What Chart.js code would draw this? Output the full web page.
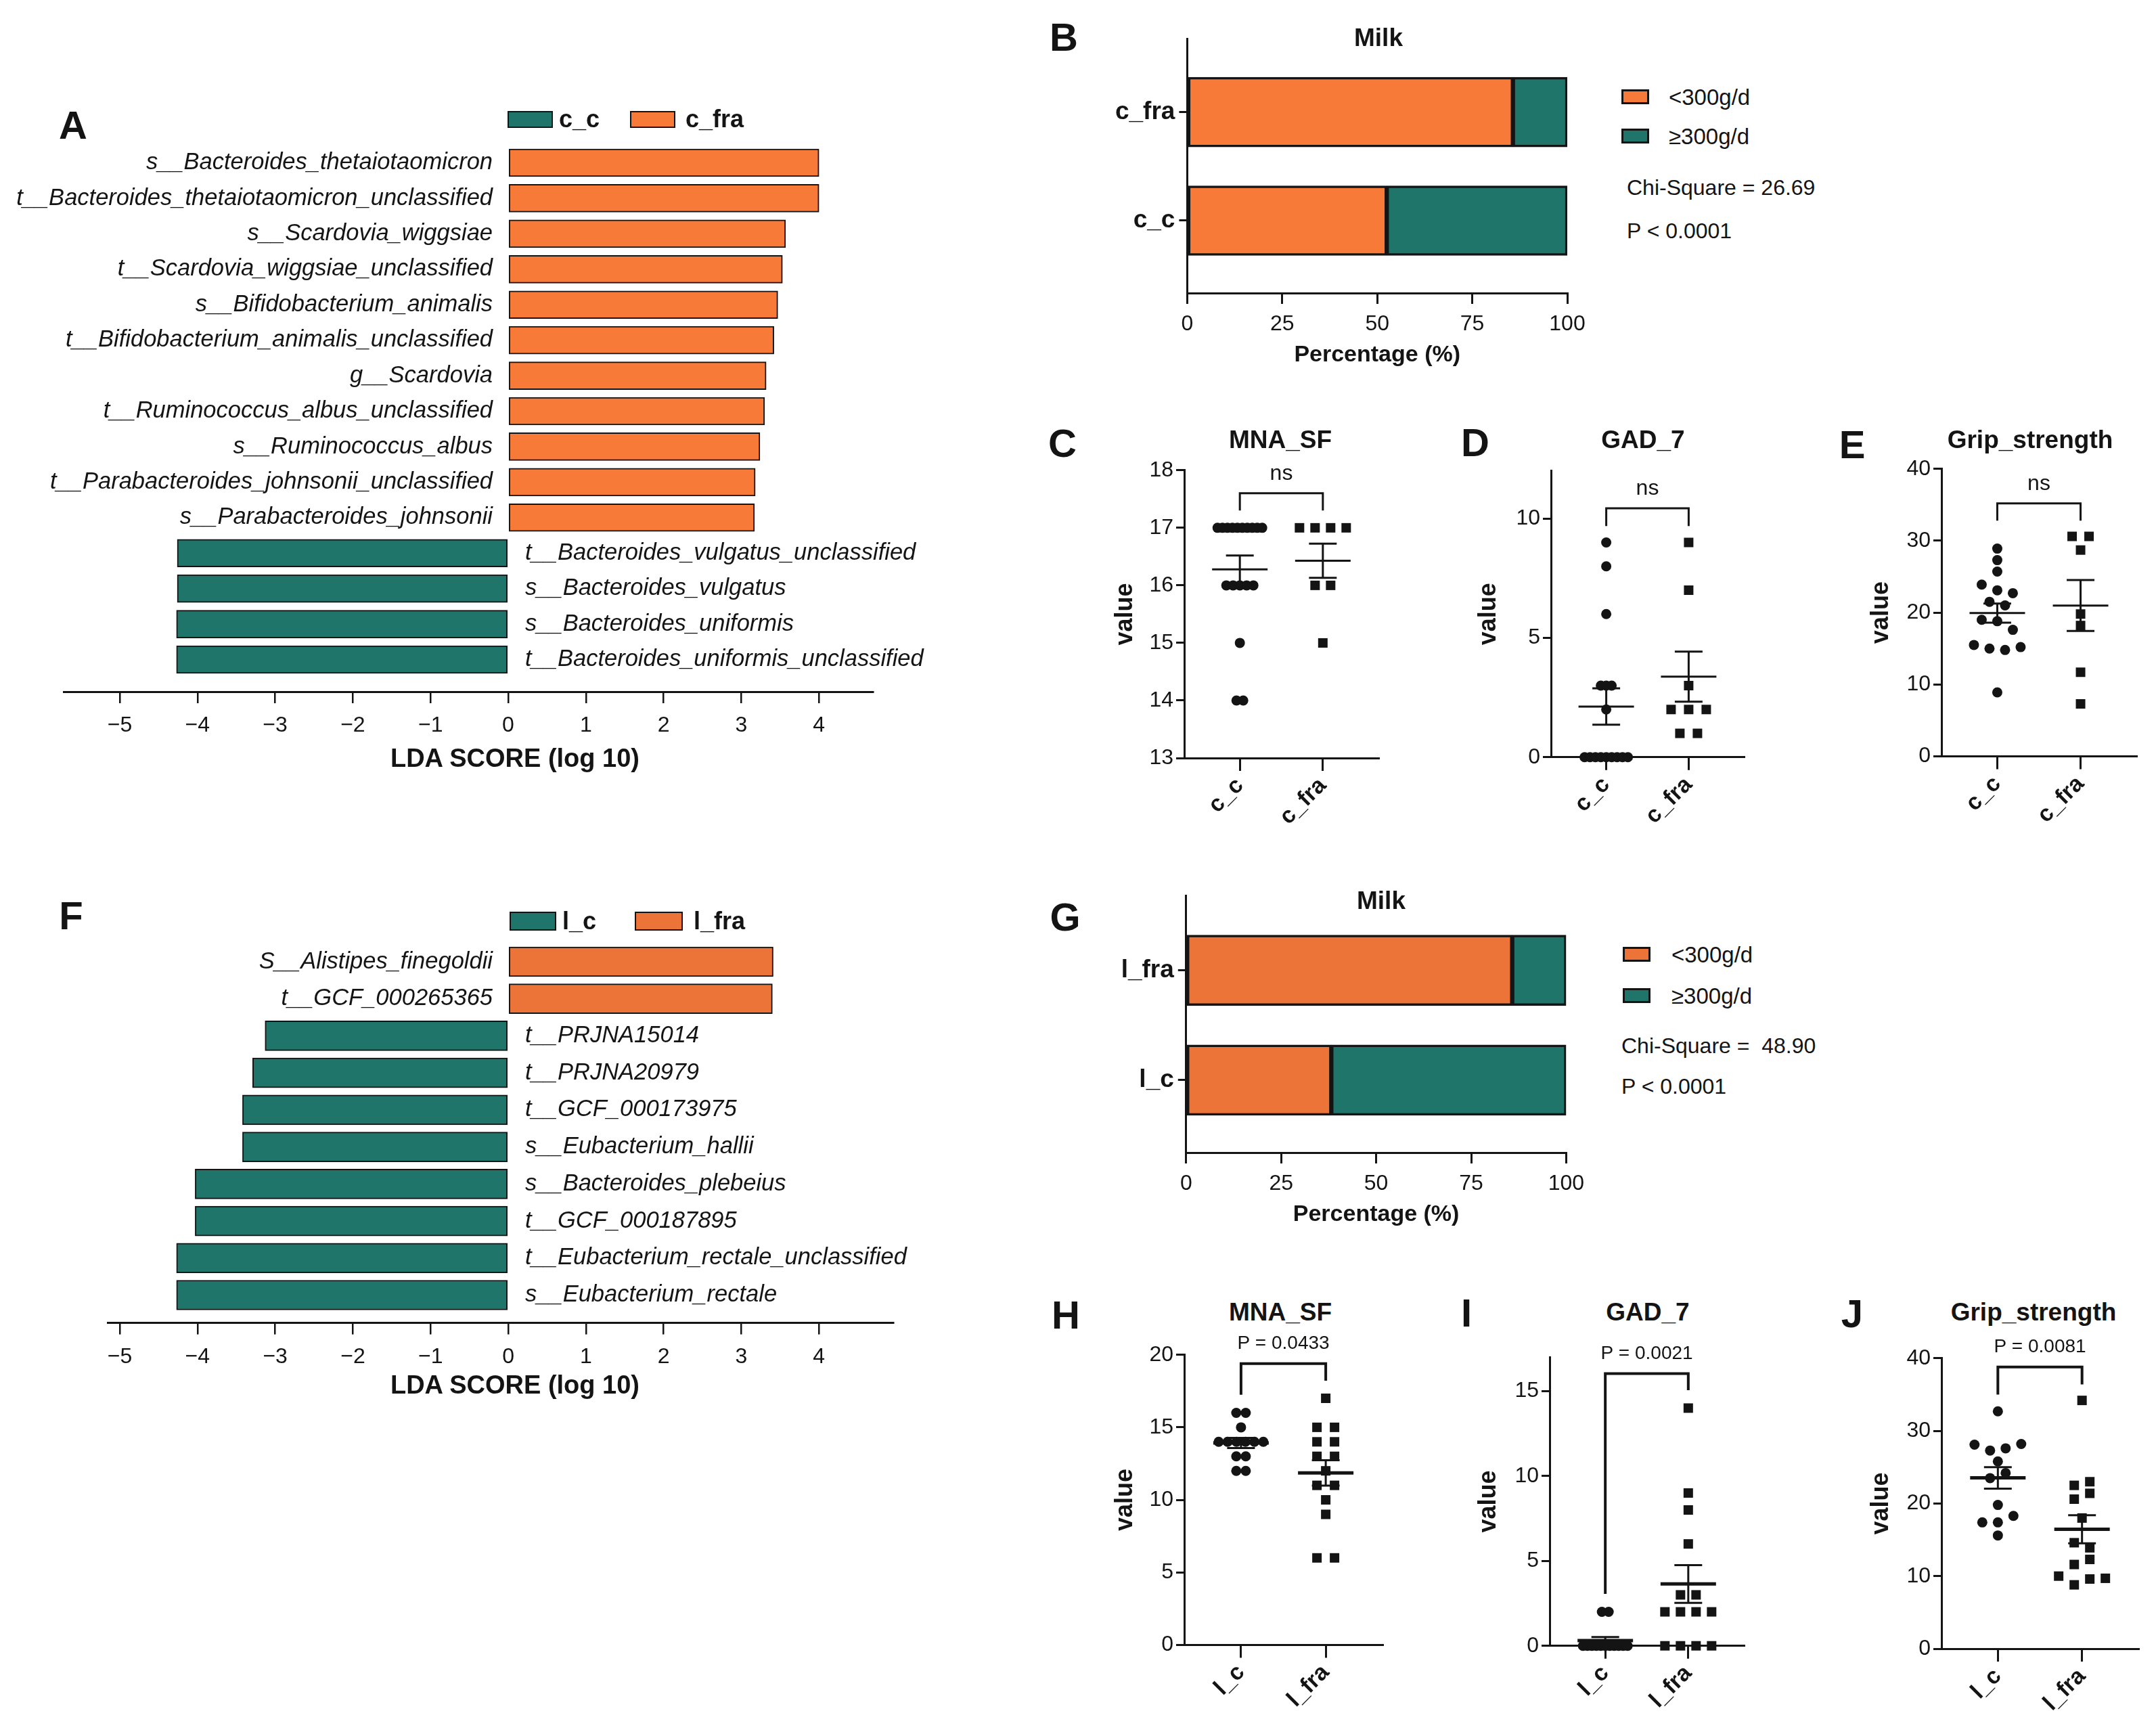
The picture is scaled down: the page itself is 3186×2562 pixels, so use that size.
<!DOCTYPE html>
<html>
<head>
<meta charset="utf-8">
<title>LDA scores, milk intake and scores by group</title>
<script src="https://cdn.jsdelivr.net/npm/chart.js@4.4.1/dist/chart.umd.min.js"></script>
<style>
  html, body { margin: 0; padding: 0; background: #fff; }
  body { position: relative; width: 3186px; height: 2562px; overflow: hidden;
         font-family: "Liberation Sans", Arial, Helvetica, sans-serif; color: #141414; }
  canvas { position: absolute; }
  .txt { position: absolute; white-space: pre; line-height: 1; }
  .mid { transform: translate(-50%, -50%); }
  .lft { transform: translate(0, -50%); }
  .sw { position: absolute; box-sizing: border-box; }
</style>
</head>
<body>
<script>
// ---------- data ----------
const ldaCLabels = [
  's__Bacteroides_thetaiotaomicron', 't__Bacteroides_thetaiotaomicron_unclassified',
  's__Scardovia_wiggsiae', 't__Scardovia_wiggsiae_unclassified',
  's__Bifidobacterium_animalis', 't__Bifidobacterium_animalis_unclassified',
  'g__Scardovia', 't__Ruminococcus_albus_unclassified', 's__Ruminococcus_albus',
  't__Parabacteroides_johnsonii_unclassified', 's__Parabacteroides_johnsonii',
  't__Bacteroides_vulgatus_unclassified', 's__Bacteroides_vulgatus',
  's__Bacteroides_uniformis', 't__Bacteroides_uniformis_unclassified'
];
const ldaCScores = [4.00, 4.00, 3.57, 3.53, 3.47, 3.42, 3.32, 3.30, 3.24, 3.18, 3.17, -4.26, -4.26, -4.27, -4.27];

const ldaLLabels = [
  'S__Alistipes_finegoldii', 't__GCF_000265365', 't__PRJNA15014', 't__PRJNA20979',
  't__GCF_000173975', 's__Eubacterium_hallii', 's__Bacteroides_plebeius',
  't__GCF_000187895', 't__Eubacterium_rectale_unclassified', 's__Eubacterium_rectale'
];
const ldaLScores = [3.41, 3.40, -3.13, -3.29, -3.42, -3.42, -4.03, -4.03, -4.27, -4.27];
const ldaTicks = [-5, -4, -3, -2, -1, 0, 1, 2, 3, 4];

const milkSeries = ['<300g/d', '\u2265300g/d'];
const milkCGroups = ['c_fra', 'c_c'];
const milkCLow = [85.7, 52.5];
const milkCHigh = [14.3, 47.5];
const milkLGroups = ['l_fra', 'l_c'];
const milkLLow = [85.8, 38.2];
const milkLHigh = [14.2, 61.8];
const pctTicks = [0, 25, 50, 75, 100];

const cGroups = ['c_c', 'c_fra'];
const lGroups = ['l_c', 'l_fra'];

const mnaC_cc = [17, 17, 17, 17, 17, 17, 17, 17, 17, 17, 16, 16, 16, 16, 16, 15, 14, 14];
const mnaC_cfra = [17, 17, 17, 17, 16, 16, 15];
const gadC_cc = [9, 8, 6, 3, 3, 3, 2, 0, 0, 0, 0, 0, 0, 0, 0, 0];
const gadC_cfra = [9, 7, 3, 2, 2, 2, 1, 1];
const gripC_cc = [28.9, 27.3, 25.7, 23.9, 23.1, 22.7, 21.5, 21.0, 19.0, 18.8, 17.6, 15.5, 15.0, 14.8, 15.2, 8.9];
const gripC_cfra = [30.6, 30.6, 28.7, 19.8, 18.2, 11.7, 7.3];

const mnaL_lc = [16, 16, 15, 14, 14, 14, 14, 14, 14, 13, 13, 12, 12];
const mnaL_lfra = [17, 15, 15, 14, 14, 13, 13, 12, 11, 11, 10, 9, 6, 6];
const gadL_lc = [2, 2, 0, 0, 0, 0, 0, 0, 0, 0, 0, 0, 0];
const gadL_lfra = [14, 9, 8, 6, 3, 3, 2, 2, 2, 2, 0, 0, 0, 0];
const gripL_lc = [32.7, 28.1, 27.3, 27.6, 28.2, 25.8, 23.5, 24.2, 19.8, 17.4, 17.4, 18.3, 15.6];
const gripL_lfra = [34.2, 22.5, 23.0, 20.6, 21.4, 18.0, 14.6, 13.9, 11.6, 12.3, 10.0, 8.8, 9.6, 9.7];

const mnaCTicks = [13, 14, 15, 16, 17, 18];
const gadCTicks = [0, 5, 10];
const gripTicks = [0, 10, 20, 30, 40];
const mnaLTicks = [0, 5, 10, 15, 20];
const gadLTicks = [0, 5, 10, 15];

// bracket: top, left leg end, right leg end (value units)
const brMnaC = [17.6, 17.3, 17.3];
const brGadC = [10.43, 9.69, 9.69];
const brGripC = [35.2, 32.8, 32.8];
const brMnaL = [19.39, 17.25, 18.21];
const brGadL = [16.03, 3.06, 15.05];
const brGripL = [38.8, 35.0, 36.4];

// ---------- styles ----------
const INK = '#141414';
const TEAL = '#20756a';
const ORANGE_C = '#f77a39';
const ORANGE_L = '#ec7439';
const FONT = '"Liberation Sans", Arial, Helvetica, sans-serif';

Chart.defaults.font.family = FONT;
Chart.defaults.color = INK;
Chart.defaults.animation = false;
Chart.defaults.events = [];
Chart.defaults.plugins.legend.display = false;
Chart.defaults.plugins.tooltip.enabled = false;

function canvasAt(b) {
  const c = document.createElement('canvas');
  c.width = b.w; c.height = b.h;
  c.style.left = b.x + 'px'; c.style.top = b.y + 'px';
  c.style.width = b.w + 'px'; c.style.height = b.h + 'px';
  document.body.appendChild(c);
  return c;
}
// padding so the chart area lands on a (page coords) inside canvas box b
function pad(b, a, yW, xH) {
  return { left: a.l - b.x - yW, top: a.t - b.y, right: b.x + b.w - a.r, bottom: b.y + b.h - a.b - xH };
}
const fixW = w => s => { s.width = w; };
const fixH = h => s => { s.height = h; };
const setTicks = list => s => { s.ticks = list.map(v => ({ value: v })); };

function text(str, x, y, size, bold, left) {
  const d = document.createElement('div');
  d.className = 'txt ' + (left ? 'lft' : 'mid');
  d.textContent = str;
  d.style.left = x + 'px'; d.style.top = y + 'px';
  d.style.fontSize = size + 'px';
  if (bold) d.style.fontWeight = 'bold';
  document.body.appendChild(d);
}
function swatch(x, y, w, h, color, bw) {
  const d = document.createElement('div');
  d.className = 'sw';
  Object.assign(d.style, { left: x + 'px', top: y + 'px', width: w + 'px', height: h + 'px',
    background: color, border: bw + 'px solid ' + INK });
  document.body.appendChild(d);
}

// ---------- LDA bar charts ----------
function ldaChart(b, a, labels, scores, orange, yMax, xMin, xMax, thick) {
  const labelPlugin = {
    id: 'ldaLabels',
    afterDatasetsDraw(chart) {
      const { ctx, scales: { x, y } } = chart;
      const x0 = x.getPixelForValue(0);
      ctx.save();
      ctx.font = 'italic 34.5px ' + FONT;
      ctx.fillStyle = INK;
      ctx.textBaseline = 'middle';
      scores.forEach((s, i) => {
        const py = y.getPixelForValue(i);
        if (s > 0) { ctx.textAlign = 'right'; ctx.fillText(labels[i], x0 - 23, py); }
        else { ctx.textAlign = 'left'; ctx.fillText(labels[i], x0 + 25, py); }
      });
      ctx.restore();
    }
  };
  return new Chart(canvasAt(b), {
    type: 'bar',
    data: {
      datasets: [{
        data: scores.map((s, i) => ({ x: s, y: i })),
        backgroundColor: scores.map(s => s > 0 ? orange : TEAL),
        borderColor: INK, borderWidth: 2, borderSkipped: false, barThickness: thick
      }]
    },
    options: {
      responsive: false,
      indexAxis: 'y',
      layout: { padding: pad(b, a, 0, 80) },
      scales: {
        x: {
          type: 'linear', min: xMin, max: xMax,
          afterBuildTicks: setTicks(ldaTicks), afterFit: fixH(80),
          grid: { drawOnChartArea: false, tickLength: 17, lineWidth: 2.5, color: INK },
          border: { width: 3, color: INK },
          ticks: { font: { size: 32 }, padding: 14, color: INK, autoSkip: false,
                   callback: v => v < 0 ? '\u2212' + (-v) : String(v) }
        },
        y: { type: 'linear', reverse: true, min: -0.5, max: yMax, offset: false,
             grid: { offset: false }, display: false }
      }
    },
    plugins: [labelPlugin]
  });
}

// ---------- milk stacked bars ----------
function milkChart(b, a, groups, low, high, orange, thick, yMax) {
  const barStyle = { borderColor: INK, borderWidth: 3.5, borderSkipped: false, barThickness: thick };
  return new Chart(canvasAt(b), {
    type: 'bar',
    data: {
      datasets: [
        Object.assign({ label: milkSeries[0], data: low.map((v, i) => ({ x: v, y: i })), backgroundColor: orange }, barStyle),
        Object.assign({ label: milkSeries[1], data: high.map((v, i) => ({ x: v, y: i })), backgroundColor: TEAL }, barStyle)
      ]
    },
    options: {
      responsive: false,
      indexAxis: 'y',
      layout: { padding: pad(b, a, 130, 112) },
      scales: {
        x: {
          type: 'linear', stacked: true, min: 0, max: 100,
          afterBuildTicks: setTicks(pctTicks), afterFit: fixH(112),
          grid: { drawOnChartArea: false, tickLength: 16, lineWidth: 3, color: INK },
          border: { width: 3, color: INK },
          ticks: { font: { size: 32 }, padding: 11, color: INK },
          title: { display: true, text: 'Percentage (%)', font: { size: 34, weight: 'bold' }, padding: 0, color: INK }
        },
        y: {
          type: 'linear', stacked: true, reverse: true, min: -0.678, max: yMax, offset: false,
          afterBuildTicks: setTicks([0, 1]), afterFit: fixW(130),
          grid: { drawOnChartArea: false, offset: false, tickLength: 12, lineWidth: 3, color: INK },
          border: { width: 3, color: INK },
          ticks: { font: { size: 37, weight: 'bold' }, padding: 6, color: INK, callback: v => groups[v] }
        }
      }
    }
  });
}

// ---------- scatter with mean ± SEM ----------
function swarmOffsets(values, pxY, gap, maxSpan) {
  const order = values.map((v, i) => i).sort((p, q) => values[q] - values[p] || p - q);
  const bins = [];
  let cur = null;
  for (const i of order) {
    if (cur && (values[cur[0]] - values[i]) * pxY < 15) cur.push(i);
    else { cur = [i]; bins.push(cur); }
  }
  const off = new Array(values.length).fill(0);
  bins.forEach(bin => {
    bin.sort((p, q) => p - q);
    const m = bin.length;
    const s = m > 1 ? Math.min(gap, maxSpan / (m - 1)) : 0;
    bin.forEach((i, k) => { off[i] = (k - (m - 1) / 2) * s; });
  });
  return off;
}

function dotChart(p) {
  const { b, a, groups, sets, yMin, yMax, yTicks, bracket, stat, statSize, spread, meanLW, brLW } = p;
  const yW = a.l - p.titleX + 21.6;
  const meanPlugin = {
    id: 'meanSem',
    afterDatasetsDraw(chart) {
      const { ctx, scales: { x, y } } = chart;
      ctx.save();
      ctx.strokeStyle = INK;
      sets.forEach((vals, g) => {
        const n = vals.length;
        const mean = vals.reduce((s, v) => s + v, 0) / n;
        const sd = Math.sqrt(vals.reduce((s, v) => s + (v - mean) ** 2, 0) / (n - 1));
        const sem = sd / Math.sqrt(n);
        const cx = x.getPixelForValue(g);
        const yt = y.getPixelForValue(mean + sem), yb = y.getPixelForValue(mean - sem);
        ctx.lineWidth = 3;
        ctx.beginPath();
        ctx.moveTo(cx, yt); ctx.lineTo(cx, yb);
        ctx.moveTo(cx - 20.5, yt); ctx.lineTo(cx + 20.5, yt);
        ctx.moveTo(cx - 20.5, yb); ctx.lineTo(cx + 20.5, yb);
        ctx.stroke();
        ctx.lineWidth = meanLW;
        const ym = y.getPixelForValue(mean);
        ctx.beginPath(); ctx.moveTo(cx - 41, ym); ctx.lineTo(cx + 41, ym); ctx.stroke();
      });
      const x0 = x.getPixelForValue(0), x1 = x.getPixelForValue(1);
      const top = y.getPixelForValue(bracket[0]);
      ctx.lineWidth = brLW;
      ctx.lineJoin = 'miter';
      ctx.beginPath();
      ctx.moveTo(x0, y.getPixelForValue(bracket[1]));
      ctx.lineTo(x0, top); ctx.lineTo(x1, top);
      ctx.lineTo(x1, y.getPixelForValue(bracket[2]));
      ctx.stroke();
      ctx.fillStyle = INK;
      ctx.font = statSize + 'px ' + FONT;
      ctx.textAlign = 'center'; ctx.textBaseline = 'middle';
      ctx.fillText(stat, (x0 + x1) / 2, top - 29);
      ctx.restore();
    }
  };
  const styles = ['circle', 'rect'];
  const chart = new Chart(canvasAt(b), {
    type: 'scatter',
    data: {
      datasets: sets.map((vals, g) => ({
        data: vals.map(v => ({ x: g, y: v })),
        pointStyle: styles[g], pointRadius: g === 0 ? 7.5 : 9.9,
        backgroundColor: INK, borderWidth: 0, clip: false
      }))
    },
    options: {
      responsive: false,
      layout: { padding: pad(b, a, yW, 120) },
      scales: {
        x: {
          type: 'linear', min: -0.67, max: 1.67,
          afterBuildTicks: setTicks([0, 1]), afterFit: fixH(120),
          grid: { drawOnChartArea: false, tickLength: 19, lineWidth: 3, color: INK },
          border: { width: 3, color: INK },
          ticks: { font: { size: 34, weight: 'bold' }, minRotation: 45, maxRotation: 45,
                   autoSkip: false, padding: 2, color: INK, callback: v => groups[v] }
        },
        y: {
          type: 'linear', min: yMin, max: yMax,
          afterBuildTicks: setTicks(yTicks), afterFit: fixW(yW),
          grid: { drawOnChartArea: false, tickLength: 12, lineWidth: 3, color: INK },
          border: { width: 3, color: INK },
          ticks: { font: { size: 32 }, padding: 4, color: INK },
          title: { display: true, text: 'value', font: { size: 36, weight: 'bold' }, padding: 0, color: INK }
        }
      }
    },
    plugins: [meanPlugin]
  });
  // spread tied / close values sideways like a column scatter
  const xs = chart.scales.x, ys = chart.scales.y;
  const pxX = xs.getPixelForValue(1) - xs.getPixelForValue(0);
  const pxY = Math.abs(ys.getPixelForValue(0) - ys.getPixelForValue(1));
  sets.forEach((vals, g) => {
    const off = swarmOffsets(vals, pxY, spread[g][0], spread[g][1]);
    chart.data.datasets[g].data = vals.map((v, i) => ({ x: g + off[i] / pxX, y: v }));
  });
  chart.update('none');
  return chart;
}

// ---------- panels ----------
ldaChart({ x: 0, y: 150, w: 1400, h: 1000 }, { l: 94, r: 1290, t: 214.3, b: 1022 },
  ldaCLabels, ldaCScores, ORANGE_C, 14.906, -5.723, 4.695, 41);
ldaChart({ x: 0, y: 1340, w: 1400, h: 760 }, { l: 159, r: 1320, t: 1393.6, b: 1954.6 },
  ldaLLabels, ldaLScores, ORANGE_L, 9.751, -5.157, 4.956, 44);

milkChart({ x: 1600, y: 10, w: 760, h: 560 }, { l: 1754.4, r: 2316, t: 57, b: 433 },
  milkCGroups, milkCLow, milkCHigh, ORANGE_C, 103, 1.6675);
milkChart({ x: 1600, y: 1290, w: 760, h: 560 }, { l: 1752.8, r: 2314.4, t: 1323.7, b: 1703 },
  milkLGroups, milkLLow, milkLHigh, ORANGE_L, 104, 1.66);

dotChart({ b: { x: 1600, y: 660, w: 460, h: 620 }, a: { l: 1750, r: 2037, t: 694.8, b: 1120 }, titleX: 1663,
  groups: cGroups, sets: [mnaC_cc, mnaC_cfra], yMin: 13, yMax: 18, yTicks: mnaCTicks,
  bracket: brMnaC, stat: 'ns', statSize: 32, spread: [[10, 66], [23, 70]], meanLW: 3, brLW: 3 });
dotChart({ b: { x: 2140, y: 660, w: 460, h: 620 }, a: { l: 2292, r: 2577, t: 695.7, b: 1118.8 }, titleX: 2200,
  groups: cGroups, sets: [gadC_cc, gadC_cfra], yMin: 0, yMax: 12, yTicks: gadCTicks,
  bracket: brGadC, stat: 'ns', statSize: 32, spread: [[8, 66], [26, 80]], meanLW: 3, brLW: 3 });
dotChart({ b: { x: 2700, y: 660, w: 486, h: 620 }, a: { l: 2869, r: 3157, t: 692.7, b: 1117.5 }, titleX: 2780,
  groups: cGroups, sets: [gripC_cc, gripC_cfra], yMin: 0, yMax: 40, yTicks: gripTicks,
  bracket: brGripC, stat: 'ns', statSize: 32, spread: [[23, 80], [25, 80]], meanLW: 3, brLW: 3 });

dotChart({ b: { x: 1600, y: 1965, w: 460, h: 597 }, a: { l: 1750, r: 2043, t: 2001.7, b: 2430.4 }, titleX: 1663,
  groups: lGroups, sets: [mnaL_lc, mnaL_lfra], yMin: 0, yMax: 20, yTicks: mnaLTicks,
  bracket: brMnaL, stat: 'P = 0.0433', statSize: 28, spread: [[14, 66], [26, 80]], meanLW: 5, brLW: 4 });
dotChart({ b: { x: 2140, y: 1965, w: 460, h: 597 }, a: { l: 2290, r: 2577, t: 2005.2, b: 2431.7 }, titleX: 2200,
  groups: lGroups, sets: [gadL_lc, gadL_lfra], yMin: 0, yMax: 17, yTicks: gadLTicks,
  bracket: brGadL, stat: 'P = 0.0021', statSize: 28, spread: [[10, 66], [23, 80]], meanLW: 5, brLW: 4 });
dotChart({ b: { x: 2700, y: 1965, w: 486, h: 597 }, a: { l: 2869, r: 3160, t: 2006.9, b: 2436 }, titleX: 2780,
  groups: lGroups, sets: [gripL_lc, gripL_lfra], yMin: 0, yMax: 40, yTicks: gripTicks,
  bracket: brGripL, stat: 'P = 0.0081', statSize: 28, spread: [[23, 80], [23, 80]], meanLW: 5, brLW: 4 });

// ---------- text, legends, panel letters ----------
[['A', 108, 185], ['B', 1572, 55], ['C', 1570, 655], ['D', 2180, 654], ['E', 2737, 657],
 ['F', 105, 1353], ['G', 1574, 1355], ['H', 1575, 1943], ['I', 2167, 1940], ['J', 2737, 1941]]
  .forEach(([s, x, y]) => text(s, x, y, 58, true));

text('LDA SCORE (log 10)', 761, 1120, 38, true);
text('LDA SCORE (log 10)', 761, 2046, 38, true);
text('Milk', 2037, 55, 37, true);
text('Milk', 2041, 1330, 37, true);
text('MNA_SF', 1892, 649, 37, true);
text('GAD_7', 2428, 649, 37, true);
text('Grip_strength', 3000, 649, 37, true);
text('MNA_SF', 1892, 1938, 37, true);
text('GAD_7', 2435, 1938, 37, true);
text('Grip_strength', 3005, 1938, 37, true);

// LEfSe legends
swatch(750, 163.5, 67, 25, TEAL, 2); text(cGroups[0], 826, 176, 36, true, true);
swatch(931, 163.5, 67, 25, ORANGE_C, 2); text(cGroups[1], 1013, 176, 36, true, true);
swatch(753, 1347, 69, 28, TEAL, 2); text(lGroups[0], 831, 1361, 36, true, true);
swatch(938, 1347, 71, 28, ORANGE_L, 2); text(lGroups[1], 1025, 1361, 36, true, true);

// milk legends and statistics
swatch(2396, 131.5, 41, 22, ORANGE_C, 3); text(milkSeries[0], 2466, 142.5, 33, false, true);
swatch(2396, 190, 41, 22, TEAL, 3); text(milkSeries[1], 2466, 201, 33, false, true);
text('Chi-Square = 26.69', 2404, 277, 32, false, true);
text('P < 0.0001', 2404, 341, 32, false, true);
swatch(2398, 1399, 41, 22, ORANGE_L, 3); text(milkSeries[0], 2470, 1410, 33, false, true);
swatch(2398, 1460, 41, 22, TEAL, 3); text(milkSeries[1], 2470, 1471, 33, false, true);
text('Chi-Square =  48.90', 2396, 1545, 32, false, true);
text('P < 0.0001', 2396, 1605, 32, false, true);
</script>
</body>
</html>
